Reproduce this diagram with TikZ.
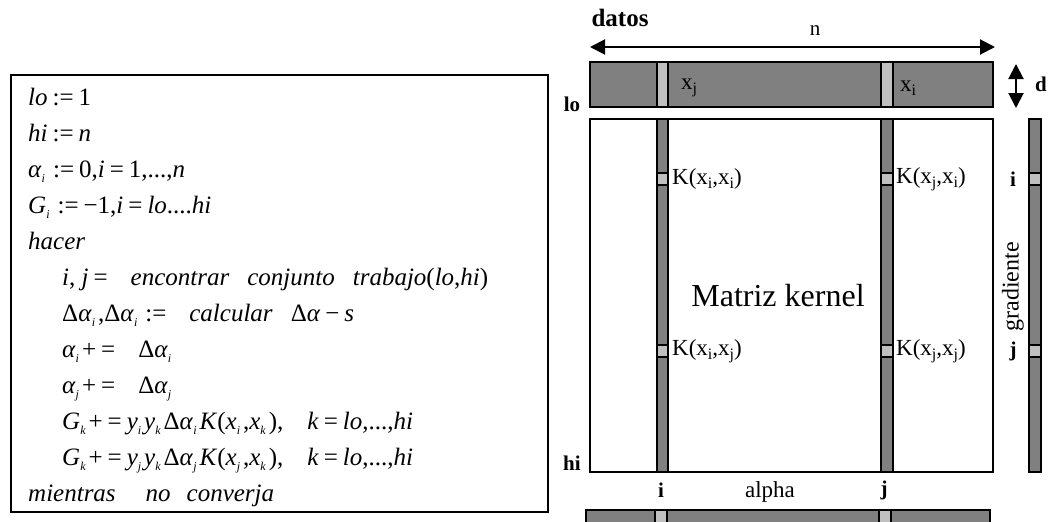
\documentclass[tikz,border=0pt]{standalone}
\usepackage{fontspec}
\setmainfont{Liberation Serif}
\usetikzlibrary{arrows.meta}
\newcommand{\sbs}[1]{\raisebox{-0.5ex}{\fontsize{12}{12}\selectfont\itshape #1}\hspace{3pt}}
\newcommand{\sbu}[1]{\raisebox{-0.35ex}{\fontsize{16}{16}\selectfont #1}}
\newcommand{\gap}{\hspace{18pt}}
\newcommand{\opsp}[1]{\hspace{5pt}#1\hspace{5pt}}
\definecolor{bargray}{HTML}{808080}
\definecolor{lightgray}{HTML}{C0C0C0}
\begin{document}
\begin{tikzpicture}[x=1pt,y=-1pt,
  code/.style={anchor=base west,inner sep=0pt,font=\fontsize{25}{25}\selectfont},
  bar/.style={draw=black,line width=1.5pt,fill=bargray},
  cell/.style={draw=black,line width=1.5pt,fill=lightgray},
  lbl/.style={inner sep=0pt,font=\fontsize{23}{23}\selectfont},
  blbl/.style={inner sep=0pt,font=\fontsize{21}{21}\selectfont\bfseries},
  dbl/.style={line width=2pt,{Triangle[length=15pt,width=15pt]}-{Triangle[length=15pt,width=15pt]}}]
\useasboundingbox (0,0) rectangle (1050,522);
% left algorithm box
\draw[line width=1.2pt] (11,75) rectangle (548,512);
\node[code] (l1) at (28,105) {\textit{lo}\opsp{:=}1};
\node[code] (l2) at (28,141) {\textit{hi}\opsp{:=}\textit{n}};
\node[code] (l3) at (28,177) {\textit{α}\sbs{i}\opsp{:=}0,\textit{i}\opsp{=}1,...,\textit{n}};
\node[code] (l4) at (28,213) {\textit{G}\sbs{i}\opsp{:=}−1,\textit{i}\opsp{=}\textit{lo}....\textit{hi}};
\node[code] (l5) at (28,249) {\textit{hacer}};
\node[code] (l6) at (62,285) {\textit{i}, \textit{j}\opsp{=}\gap\textit{encontrar}\gap\textit{conjunto}\gap\textit{trabajo}(\textit{lo},\textit{hi})};
\node[code] (l7) at (62,321) {Δ\textit{α}\sbs{i},Δ\textit{α}\sbs{i}\opsp{:=}\gap\textit{calcular}\gap Δ\textit{α}\opsp{−}\textit{s}};
\node[code] (l8) at (62,357) {\textit{α}\sbs{i}+\opsp{=}\gap Δ\textit{α}\sbs{i}};
\node[code] (l9) at (62,393) {\textit{α}\sbs{j}+\opsp{=}\gap Δ\textit{α}\sbs{j}};
\node[code] (l10) at (62,429) {\textit{G}\sbs{k}+\opsp{=}\textit{y}\sbs{i}\textit{y}\sbs{k}Δ\textit{α}\sbs{i}\textit{K}(\textit{x}\sbs{i},\textit{x}\sbs{k}),\hspace{24pt}\textit{k}\opsp{=}\textit{lo},...,\textit{hi}};
\node[code] (l11) at (62,465) {\textit{G}\sbs{k}+\opsp{=}\textit{y}\sbs{j}\textit{y}\sbs{k}Δ\textit{α}\sbs{j}\textit{K}(\textit{x}\sbs{j},\textit{x}\sbs{k}),\hspace{24pt}\textit{k}\opsp{=}\textit{lo},...,\textit{hi}};
\node[code] (l12) at (28,501) {\textit{mientras}\hspace{30pt}\textit{no}\hspace{16pt}\textit{converja}};
% datos
\node[inner sep=0pt,font=\fontsize{25}{25}\selectfont\bfseries] (datos) at (620,18) {datos};
\coordinate (nl) at (590,47);
\coordinate (nr) at (995,47);
\draw[dbl] (nl) -- (nr);
\node[inner sep=0pt,font=\fontsize{21}{21}\selectfont] (n) at (815,31) {n};
\draw[bar] (590,62) rectangle (993,107);
\draw[cell] (657,62) rectangle (668,107);
\draw[cell] (881,62) rectangle (893,107);
\node[lbl] (xj) at (689,88) {x\sbu{j}};
\node[lbl] (xi) at (908,88) {x\sbu{i}};
\coordinate (dt) at (1016,64);
\coordinate (db) at (1016,108);
\draw[dbl] (dt) -- (db);
\node[blbl] (d) at (1041,84) {d};
% matrix
\node[blbl] (lo) at (572,104) {lo};
\node[blbl] (hi) at (572,463) {hi};
\draw[line width=1.5pt,fill=white] (590,119) rectangle (993,472);
\draw[bar] (657,119) rectangle (668,472);
\draw[bar] (881,119) rectangle (893,472);
\draw[cell] (657,173) rectangle (668,185);
\draw[cell] (881,173) rectangle (893,185);
\draw[cell] (657,345) rectangle (668,357);
\draw[cell] (881,345) rectangle (893,357);
\node[lbl,anchor=west] (kii) at (672,179) {K(x\sbu{i},x\sbu{i})};
\node[lbl,anchor=west] (kji) at (896,179) {K(x\sbu{j},x\sbu{i})};
\node[lbl,anchor=west] (kij) at (672,351) {K(x\sbu{i},x\sbu{j})};
\node[lbl,anchor=west] (kjj) at (896,351) {K(x\sbu{j},x\sbu{j})};
\node[inner sep=0pt,font=\fontsize{32}{32}\selectfont] (mk) at (778,296) {Matriz kernel};
% gradient
\draw[bar] (1029,119) rectangle (1041,472);
\draw[cell] (1029,173) rectangle (1041,185);
\draw[cell] (1029,345) rectangle (1041,357);
\node[blbl] (gi) at (1013,179) {i};
\node[blbl] (gj) at (1013,351) {j};
\node[inner sep=0pt,rotate=90,font=\fontsize{24}{24}\selectfont] (grad) at (1013,287) {gradiente};
% alpha
\node[blbl] (ai) at (661,490) {i};
\node[blbl] (aj) at (884,490) {j};
\node[lbl] (alpha) at (770,492) {alpha};
\draw[bar] (586,510) rectangle (990,530);
\draw[cell] (655,510) rectangle (667,530);
\draw[cell] (879,510) rectangle (891,530);
\end{tikzpicture}
\end{document}
